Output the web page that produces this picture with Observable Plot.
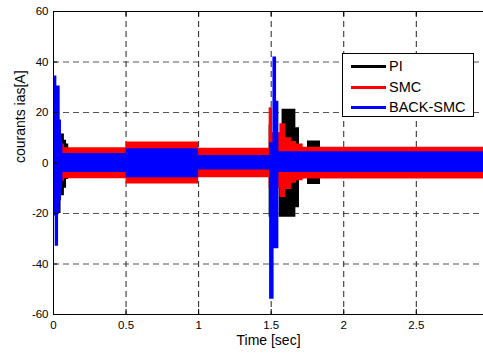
<!DOCTYPE html>
<html>
<head>
<meta charset="utf-8">
<script src="https://cdn.jsdelivr.net/npm/d3@7"></script>
<script src="https://cdn.jsdelivr.net/npm/@observablehq/plot@0.6"></script>
<style>
html, body { margin: 0; padding: 0; background: #fff; overflow: hidden; }
#wrap { position: relative; width: 483px; height: 354px; }
#legend { position: absolute; left: 342px; top: 53px; width: 132px; height: 64px; border: 1px solid #000; background: #fff; box-sizing: border-box; font-family: "Liberation Sans", Arial, sans-serif; font-size: 14.5px; color: #000; }
.row { position: absolute; left: 0; height: 20px; }
.swatch { position: absolute; left: 8px; width: 35px; height: 3px; }
.lab { position: absolute; left: 46px; white-space: nowrap; line-height: 16px; }
</style>
</head>
<body>
<div id="wrap"></div>
<script>
// ---- data: envelope of each current ----
const seriesNames  = ["PI", "SMC", "BACK-SMC"];
const seriesColors = ["#000000", "#ff0000", "#0000ff"];

const piT  = [0, 0.040, 0.052, 0.075, 0.090, 0.105, 0.50, 1.00, 1.486, 1.506, 1.555, 1.575, 1.670, 1.695, 1.750, 1.840, 2.963];
const piLo = [-20, -20, -13, -10, -6.5, -5, -6, -5, -21.5, -10, -21.5, -21.5, -17.7, -5, -8.5, -5, -5];
const piHi = [30, 16, 11.5, 9, 7.5, 5, 6, 5, 15, 10, 12, 21.3, 14, 5, 8.7, 5, 5];

const smcT  = [0, 0.058, 0.075, 0.50, 1.00, 1.486, 1.509, 1.560, 1.600, 1.640, 1.675, 1.720, 2.963];
const smcLo = [-10, -7.2, -6.2, -8.3, -5.8, -10, -10, -13.7, -10.5, -8, -7, -6.3, -6.3];
const smcHi = [10, 7.5, 6.0, 8.3, 5.8, 21.9, 12, 15.5, 10, 8.5, 7.5, 6.2, 6.2];

const backT  = [0, 0.012, 0.023, 0.035, 0.046, 0.055, 0.065, 0.50, 1.00, 1.489, 1.512, 1.520, 1.537, 1.553, 2.963];
const backLo = [-21, -33, -33, -20, -15, -8, -3.8, -5.8, -2.8, -54, -54, -34, -34, -3.8, -3.8];
const backHi = [34.5, 34.5, 30.5, 30.5, 17, 8, 3.8, 5.6, 3.0, 8, 42, 42, 24.5, 4.5, 4.5];

const xTicks = [0, 0.5, 1, 1.5, 2, 2.5];
const yTicks = [-60, -40, -20, 0, 20, 40, 60];
const xDomain = [0, 2.963];
const yDomain = [-60, 60];
const xLabel = "Time [sec]";
const yLabel = "courants ias[A]";

// ---- build tables ----
const toRows = (T, L, H) => T.map((t, i) => ({t, lo: L[i], hi: H[i]}));
const piData = toRows(piT, piLo, piHi);
const smcData = toRows(smcT, smcLo, smcHi);
const backData = toRows(backT, backLo, backHi);

const font = "'Liberation Sans', Arial, sans-serif";

const chart = Plot.plot({
  width: 483,
  height: 354,
  marginTop: 11,
  marginBottom: 40,
  marginLeft: 53,
  marginRight: 0,
  style: {fontFamily: font, fontSize: "11.5px", color: "#000", background: "#fff", overflow: "visible"},
  x: {domain: xDomain},
  y: {domain: yDomain},
  marks: [
    // grid
    Plot.ruleY(yTicks.filter(d => d > yDomain[0] && d < yDomain[1]), {y: d => d, stroke: "#555", strokeDasharray: "6,4", strokeWidth: 1}),
    Plot.ruleX(xTicks.filter(d => d > xDomain[0]), {x: d => d, stroke: "#222", strokeDasharray: "6,4", strokeWidth: 1}),
    // data envelopes
    Plot.areaY(piData, {x: "t", y1: "lo", y2: "hi", fill: seriesColors[0], curve: "step-after"}),
    Plot.areaY(smcData, {x: "t", y1: "lo", y2: "hi", fill: seriesColors[1], curve: "step-after"}),
    Plot.areaY(backData, {x: "t", y1: "lo", y2: "hi", fill: seriesColors[2], curve: "step-after"}),
    // box lines
    Plot.ruleY([yDomain[0], yDomain[1]], {y: d => d, stroke: "#000", strokeWidth: 1}),
    Plot.ruleX([xDomain[0]], {x: d => d, stroke: "#000", strokeWidth: 1}),
    // inward ticks
    Plot.ruleX(xTicks, {x: d => d, y1: yDomain[0], y2: yDomain[0] + 2, stroke: "#000"}),
    Plot.ruleX(xTicks, {x: d => d, y1: yDomain[1] - 2, y2: yDomain[1], stroke: "#000"}),
    Plot.ruleY(yTicks, {y: d => d, x1: xDomain[0], x2: xDomain[0] + 0.03, stroke: "#000"}),
    // axes
    Plot.axisX({ticks: xTicks, tickFormat: d => String(d), tickSize: 0, tickPadding: 6, label: null, fontSize: "11.5px"}),
    Plot.axisY({ticks: yTicks, tickFormat: d => String(d), tickSize: 0, tickPadding: 5, label: null, fontSize: "11.5px"}),
    Plot.text([xLabel], {text: d => d, frameAnchor: "bottom", dy: 30, fontSize: "14px", fill: "#000"}),
    Plot.text([yLabel], {text: d => d, frameAnchor: "left", rotate: -90, dx: -33, fontSize: "14px", fill: "#000"})
  ]
});

const wrap = document.getElementById("wrap");
wrap.appendChild(chart);

// legend
const legend = document.createElement("div");
legend.id = "legend";
seriesNames.forEach((name, i) => {
  const row = document.createElement("div");
  row.className = "row";
  row.style.top = (3 + i * 20.5) + "px";
  const sw = document.createElement("div");
  sw.className = "swatch";
  sw.style.background = seriesColors[i];
  sw.style.top = "8px";
  const lab = document.createElement("div");
  lab.className = "lab";
  lab.style.top = "1px";
  lab.textContent = name;
  row.appendChild(sw);
  row.appendChild(lab);
  legend.appendChild(row);
});
wrap.appendChild(legend);
</script>
</body>
</html>
